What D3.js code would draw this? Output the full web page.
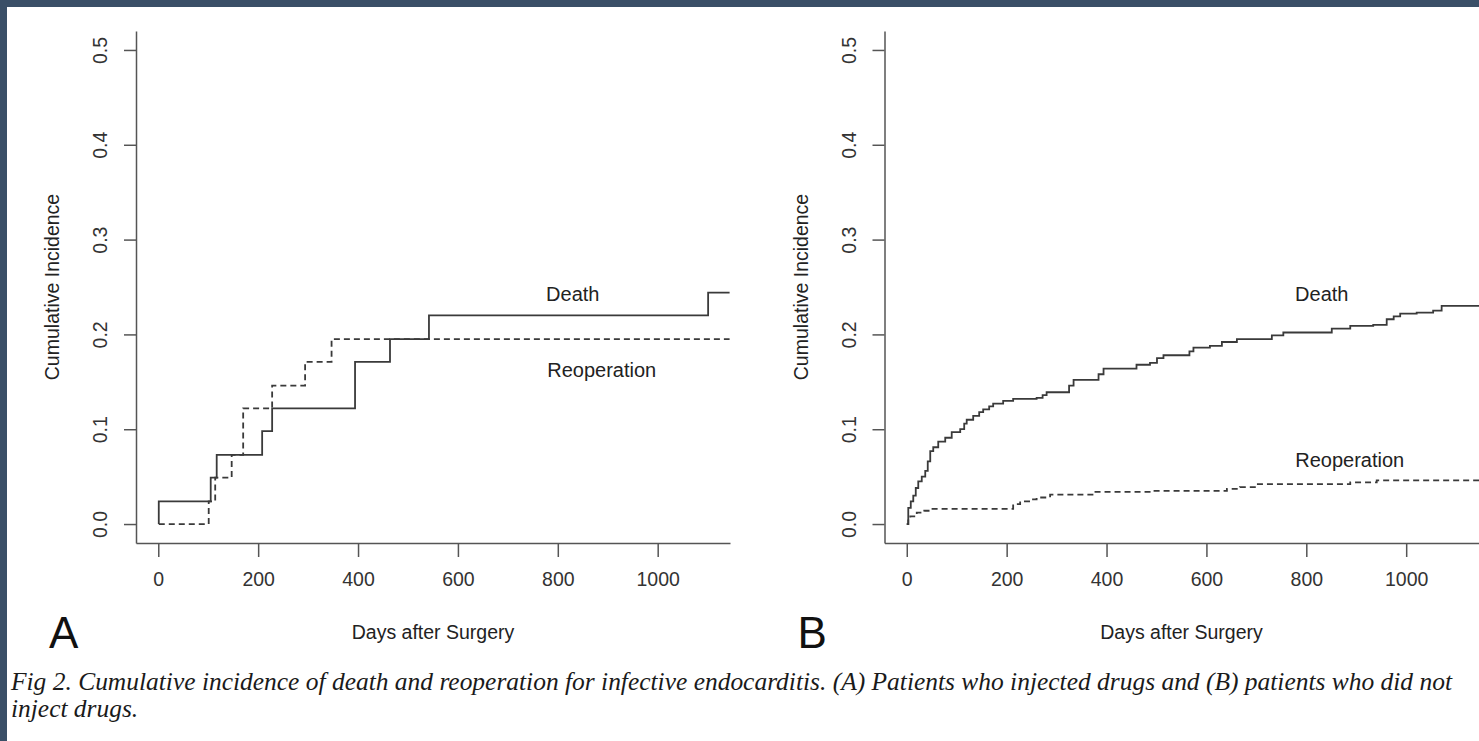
<!DOCTYPE html>
<html>
<head>
<meta charset="utf-8">
<script src="https://cdnjs.cloudflare.com/ajax/libs/d3/7.8.5/d3.min.js"></script>
<style>
    body { margin: 0; background: #3a4f67; }
    svg { display: block; }
    .axis path, .axis line { stroke: #555; stroke-width: 1.5px; }
    .axis text { fill: #333; }
</style>
</head>
<body>
<script>
// values (days, cumulative incidence)
const xTicks = [0, 200, 400, 600, 800, 1000];
const yTicks = [0.0, 0.1, 0.2, 0.3, 0.4, 0.5];

// panel A: patients who injected drugs
const deathA_days = [1, 1, 105, 117, 208, 228, 394, 464, 542, 1101, 1144];
const deathA_vals = [0, 0.024, 0.049, 0.073, 0.098, 0.122, 0.171, 0.195, 0.220, 0.244, 0.244];
const reopA_days = [1, 101, 114, 147, 170, 228, 294, 347, 1144];
const reopA_vals = [0, 0.024, 0.049, 0.073, 0.122, 0.146, 0.171, 0.195, 0.195];

// panel B: patients who did not inject drugs
const deathB_days = [0, 3, 8, 13, 18, 23, 30, 37, 42, 47, 53, 63, 77, 90, 107, 115, 120, 133, 145, 153, 165, 173, 193, 213,
    260, 272, 280, 317, 325, 334, 374, 384, 394, 447, 460, 487, 501, 514, 557, 566, 574, 607, 631, 661, 724, 731, 754,
    844, 851, 888, 934, 961, 975, 988, 1021, 1054, 1071, 1146];
const deathB_vals = [0, 0.017, 0.024, 0.030, 0.038, 0.045, 0.050, 0.056, 0.066, 0.077, 0.081, 0.087, 0.091, 0.097, 0.100,
    0.106, 0.110, 0.114, 0.118, 0.121, 0.124, 0.127, 0.130, 0.132, 0.133, 0.136, 0.139, 0.139, 0.146, 0.152, 0.152, 0.158,
    0.164, 0.164, 0.168, 0.170, 0.175, 0.178, 0.178, 0.182, 0.186, 0.188, 0.192, 0.195, 0.195, 0.199, 0.202, 0.202, 0.206,
    0.209, 0.210, 0.216, 0.219, 0.222, 0.223, 0.225, 0.230, 0.230];
const reopB_days = [0, 3, 7, 20, 35, 47, 200, 213, 227, 245, 260, 287, 367, 374, 494, 641, 667, 701, 874, 888, 941, 1146];
const reopB_vals = [0, 0.005, 0.008, 0.012, 0.014, 0.016, 0.016, 0.021, 0.024, 0.026, 0.028, 0.031, 0.031, 0.034, 0.035,
    0.037, 0.039, 0.042, 0.042, 0.044, 0.046, 0.046];

// curve labels as [day, value]
const labelsA = { death: [830, 0.243], reop: [888, 0.162] };
const labelsB = { death: [831, 0.243], reop: [887, 0.068] };

const captionLines = [
    "Fig 2.  Cumulative incidence of death and reoperation for infective endocarditis. (A) Patients who injected drugs and (B) patients who did not",
    "inject drugs."
];

const W = 1479, H = 741;
let svg = d3.select("body").append("svg")
    .attr("width", W)
    .attr("height", H);

// white page inside the dark frame
svg.append("rect")
    .attr("x", 7).attr("y", 7)
    .attr("width", W - 7).attr("height", H - 7)
    .attr("fill", "#fff");

const font = "'Liberation Sans', Arial, sans-serif";
const plotTop = 31, plotBottom = 543, plotWidth = 594;

function zip(a, b) { return a.map((d, i) => [d, b[i]]); }

function drawPanel(left, letter, death, reop, labels) {
    let xScale = d3.scaleLinear()
        .domain([-44.6, 1144.8])
        .range([left, left + plotWidth]);
    let yScale = d3.scaleLinear()
        .domain([-0.02, 0.52])
        .range([plotBottom, plotTop]);

    let g = svg.append("g");

    // x axis
    let xAxis = g.append("g")
        .attr("class", "axis")
        .attr("transform", "translate(0," + plotBottom + ")")
        .call(d3.axisBottom(xScale).tickValues(xTicks).tickFormat(d3.format("d"))
            .tickSizeOuter(0).tickSizeInner(14).tickPadding(15));
    xAxis.selectAll("text")
        .style("font-family", font)
        .style("font-size", "19.5px");

    // y axis, labels turned like R does
    let yAxis = g.append("g")
        .attr("class", "axis")
        .attr("transform", "translate(" + left + ",0)")
        .call(d3.axisLeft(yScale).tickValues(yTicks).tickSizeOuter(0).tickSizeInner(12).tickFormat(d3.format(".1f")));
    yAxis.selectAll(".tick text")
        .attr("x", null).attr("dy", null)
        .attr("transform", "translate(-36,0) rotate(-90)")
        .attr("text-anchor", "middle")
        .attr("dominant-baseline", "central")
        .style("font-family", font)
        .style("font-size", "19.5px");

    let line = d3.line()
        .x(d => xScale(d[0]))
        .y(d => yScale(d[1]))
        .curve(d3.curveStepAfter);

    g.append("path")
        .datum(death)
        .attr("fill", "none")
        .attr("stroke", "#3a3a3a")
        .attr("stroke-width", 1.8)
        .attr("d", line);

    g.append("path")
        .datum(reop)
        .attr("fill", "none")
        .attr("stroke", "#3a3a3a")
        .attr("stroke-width", 1.8)
        .attr("stroke-dasharray", "6,4")
        .attr("d", line);

    // curve names
    [["Death", labels.death], ["Reoperation", labels.reop]].forEach(l => {
        g.append("text")
            .attr("x", xScale(l[1][0]))
            .attr("y", yScale(l[1][1]))
            .attr("text-anchor", "middle")
            .attr("dominant-baseline", "central")
            .style("font-family", font)
            .style("font-size", "20px")
            .attr("fill", "#222")
            .text(l[0]);
    });

    // axis titles
    g.append("text")
        .attr("transform", "translate(" + (left - 84) + "," + ((plotTop + plotBottom) / 2) + ") rotate(-90)")
        .attr("text-anchor", "middle")
        .attr("dominant-baseline", "central")
        .style("font-family", font)
        .style("font-size", "19.5px")
        .attr("fill", "#222")
        .text("Cumulative Incidence");

    g.append("text")
        .attr("x", left + plotWidth / 2)
        .attr("y", 632)
        .attr("text-anchor", "middle")
        .attr("dominant-baseline", "central")
        .style("font-family", font)
        .style("font-size", "19.5px")
        .attr("fill", "#222")
        .text("Days after Surgery");

    // panel letter
    g.append("text")
        .attr("x", left - 87)
        .attr("y", 648)
        .style("font-family", font)
        .style("font-size", "44px")
        .attr("fill", "#111")
        .text(letter);
}

drawPanel(136, "A", zip(deathA_days, deathA_vals), zip(reopA_days, reopA_vals), labelsA);
drawPanel(884.5, "B", zip(deathB_days, deathB_vals), zip(reopB_days, reopB_vals), labelsB);

// caption: size the font so the first line spans the page like the original
const captionWidth = 1441;
let caption = svg.append("g")
    .style("font-family", "'Liberation Serif', 'Times New Roman', serif")
    .style("font-style", "italic")
    .style("font-size", "22px")
    .attr("fill", "#1a1a1a");
let first = caption.append("text").attr("x", 11).attr("y", 690).text(captionLines[0]);
const fs = 22 * captionWidth / first.node().getComputedTextLength();
caption.style("font-size", fs + "px");
first.attr("textLength", captionWidth).attr("lengthAdjust", "spacingAndGlyphs");
caption.append("text").attr("x", 11).attr("y", 690 + fs * 1.08).text(captionLines[1]);
</script>
</body>
</html>
